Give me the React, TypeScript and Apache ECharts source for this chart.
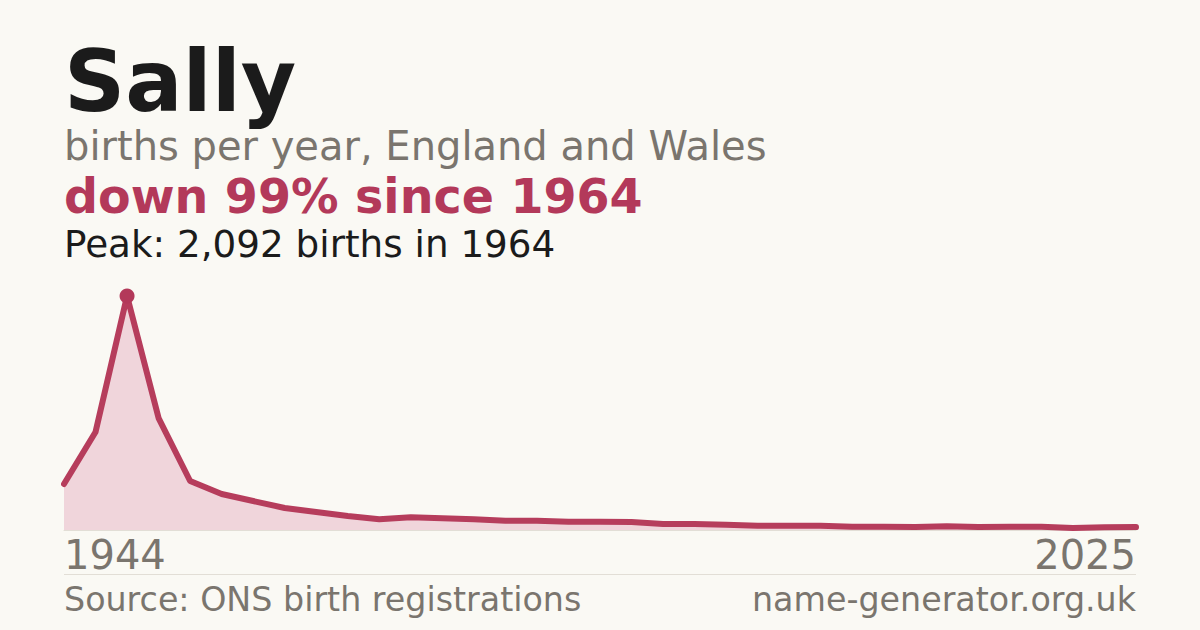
import * as React from "react";
import * as echarts from "echarts";

// births per year for "Sally"
const years = [
  "1944", "1954", "1964", "1974", "1984", "1994",
  "1997", "1998", "1999", "2000", "2001", "2002", "2003", "2004", "2005",
  "2006", "2007", "2008", "2009", "2010", "2011", "2012", "2013", "2014",
  "2015", "2016", "2017", "2018", "2019", "2020", "2021", "2022", "2023",
  "2024", "2025",
];
const births = [
  411, 876, 2092, 1001, 438, 322,
  259, 197, 161, 125, 96, 114, 105, 96, 83,
  83, 74, 74, 72, 54, 54, 47, 38, 38,
  38, 30, 29, 27, 33, 27, 30, 30, 18,
  24, 26,
];
const PEAK = 2092;

const BG = "#faf9f4";
const INK = "#1b1b1b";
const GREY = "#7a756e";
const RED = "#b3395a";
const FONT = "'DejaVu Sans', sans-serif";

export default function App() {
  const ref = React.useRef<HTMLDivElement | null>(null);

  React.useEffect(() => {
    if (!ref.current) return;
    const chart = echarts.init(ref.current, undefined, { renderer: "svg" });
    const txt = (text: string, x: number, y: number, size: number, fill: string, weight = "normal", align = "left") => ({
      type: "text",
      x,
      y,
      style: {
        text,
        fill,
        font: `${weight} ${size}px ${FONT}`,
        lineHeight: Math.round(size * 0.9),
        textAlign: align,
        textVerticalAlign: "middle",
      },
    });
    chart.setOption({
      animation: false,
      backgroundColor: BG,
      grid: { left: 64, right: 64, top: 296, bottom: 100 },
      xAxis: {
        type: "category",
        data: years,
        boundaryGap: false,
        axisLine: { show: true, lineStyle: { color: "#e2ded6", width: 1 } },
        axisTick: { show: false },
        splitLine: { show: false },
        axisLabel: {
          interval: (i: number) => i === 0 || i === years.length - 1,
          color: GREY,
          fontFamily: FONT,
          fontSize: 40,
          margin: 5,
          alignMinLabel: "left",
          alignMaxLabel: "right",
        },
      },
      yAxis: { type: "value", min: 0, max: PEAK, show: false, splitLine: { show: false } },
      series: [
        {
          type: "line",
          data: births,
          symbol: "none",
          clip: false,
          lineStyle: { color: "#b63d5c", width: 6, cap: "round", join: "round" },
          areaStyle: { color: "#f0d5db", opacity: 1 },
          markPoint: {
            symbol: "circle",
            symbolSize: 15,
            itemStyle: { color: RED },
            label: { show: false },
            data: [{ type: "max" }],
          },
        },
      ],
      graphic: [
        txt("Sally", 64, 81, 85, INK, "bold"),
        txt("births per year, England and Wales", 64, 146, 40, GREY),
        txt("down 99% since 1964", 64, 196, 47.5, RED, "bold"),
        txt("Peak: 2,092 births in 1964", 64, 244, 37.3, INK),
        {
          type: "line",
          shape: { x1: 64, y1: 574.5, x2: 1136, y2: 574.5 },
          style: { stroke: "#e2ded6", lineWidth: 1 },
        },
        txt("Source: ONS birth registrations", 64, 599, 33.3, GREY),
        txt("name-generator.org.uk", 1136, 599, 33.3, GREY, "normal", "right"),
      ],
    });
    return () => chart.dispose();
  }, []);

  return (
    <div
      ref={ref}
      style={{ position: "fixed", left: 0, top: 0, width: 1200, height: 630 }}
    />
  );
}
